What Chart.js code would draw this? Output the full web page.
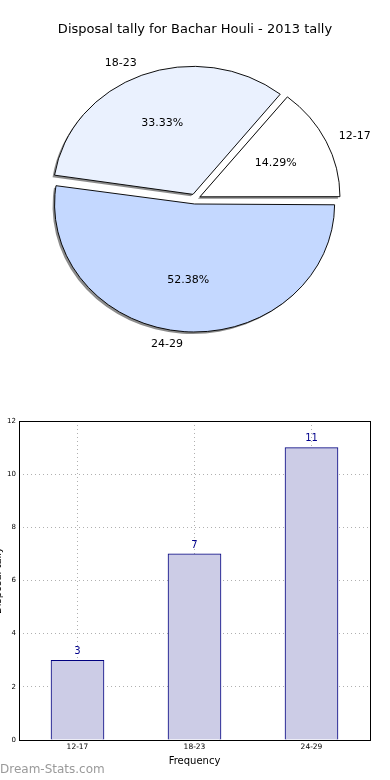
<!DOCTYPE html>
<html>
<head>
<meta charset="utf-8">
<script src="https://cdn.jsdelivr.net/npm/chart.js@4.4.0/dist/chart.umd.min.js"></script>
<style>
  html, body { margin: 0; padding: 0; background: #ffffff; width: 390px; height: 780px; overflow: hidden; }
  #pieWrap { position: absolute; left: 0; top: 0; width: 390px; height: 398px; }
  #barWrap { position: absolute; left: 0; top: 398px; width: 390px; height: 382px; }
</style>
</head>
<body>
<div id="pieWrap"><canvas id="pie" width="390" height="398"></canvas></div>
<div id="barWrap"><canvas id="bar" width="390" height="382"></canvas></div>
<script>
// ---- data ----
const chartTitle = 'Disposal tally for Bachar Houli - 2013 tally';
const categories = ['12-17', '18-23', '24-29'];
const tallies = [3, 7, 11];
const yTicks = [0, 2, 4, 6, 8, 10, 12];
const xAxisTitle = 'Frequency';
const yAxisTitle = 'Disposal tally';
const watermark = 'Dream-Stats.com';

// ---- style ----
const FONT = '"DejaVu Sans", "Liberation Sans", sans-serif';
const pieColorsByCat = ['#ffffff', '#eaf1fe', '#c4d8ff'];
const SX = 1.094;       // horizontal stretch of the pie (ellipse)
const EXPLODE = 5;      // px shift of each wedge
const R = 128;

Chart.defaults.font.family = FONT;
Chart.defaults.animation = false;

// pie drawn clockwise from east: reverse order
const pieLabels = categories.slice().reverse();
const pieData = tallies.slice().reverse();
const pieColors = pieColorsByCat.slice().reverse();
const total = tallies.reduce((a, b) => a + b, 0);

const ellipsePlugin = {
  id: 'ellipse',
  beforeDatasetsDraw(chart) {
    const ctx = chart.ctx;
    const a = chart.chartArea;
    const cx = (a.left + a.right) / 2;
    const meta = chart.getDatasetMeta(0);
    // undo Chart.js radius growth on offset arcs so all wedges share radius R
    meta.data.forEach(arc => {
      const circ = arc.endAngle - arc.startAngle;
      const fix = 1 - Math.sin(Math.min(Math.PI, circ));
      arc.outerRadius = R - EXPLODE * fix;
    });
    ctx.save();
    ctx.translate(cx, 0);
    ctx.scale(SX, 1);
    ctx.translate(-cx, 0);
    // shadows: draw each wedge once, shifted and gray
    ctx.save();
    ctx.translate(-2 / SX, 2);
    meta.data.forEach(arc => {
      const o = arc.options;
      const bg = o.backgroundColor, bc = o.borderColor;
      o.backgroundColor = 'rgba(0,0,0,0.45)';
      o.borderColor = 'rgba(0,0,0,0)';
      arc.draw(ctx);
      o.backgroundColor = bg;
      o.borderColor = bc;
    });
    ctx.restore();
  },
  afterDatasetsDraw(chart) {
    const ctx = chart.ctx;
    ctx.restore();
    const meta = chart.getDatasetMeta(0);
    ctx.save();
    ctx.fillStyle = '#000';
    ctx.font = '11px ' + FONT;
    ctx.textBaseline = 'middle';
    meta.data.forEach((arc, i) => {
      const mid = (arc.startAngle + arc.endAngle) / 2;
      const dx = Math.cos(mid), dy = Math.sin(mid);
      const rl = EXPLODE + R * 1.1;
      ctx.textAlign = dx > 0 ? 'left' : 'right';
      ctx.fillText(pieLabels[i], arc.x + dx * rl * SX, arc.y + dy * rl);
      const rp = EXPLODE + R * 0.6;
      ctx.textAlign = 'center';
      const pct = (pieData[i] / total * 100).toFixed(2) + '%';
      ctx.fillText(pct, arc.x + dx * rp * SX, arc.y + dy * rp);
    });
    ctx.font = '13px ' + FONT;
    ctx.textAlign = 'center';
    ctx.fillText(chartTitle, 195, 30);
    ctx.restore();
  }
};

new Chart(document.getElementById('pie'), {
  type: 'pie',
  data: {
    labels: pieLabels,
    datasets: [{
      data: pieData,
      backgroundColor: pieColors,
      borderColor: '#000000',
      borderWidth: 0.9,
      offset: EXPLODE * 4,
      hoverOffset: 0,
      clip: false
    }]
  },
  options: {
    responsive: false,
    events: [],
    rotation: 90,
    radius: R,
    layout: { padding: 0 },
    plugins: { legend: { display: false }, tooltip: { enabled: false }, title: { display: false } }
  },
  plugins: [ellipsePlugin]
});

const barTextPlugin = {
  id: 'barText',
  afterDraw(chart) {
    const ctx = chart.ctx;
    const a = chart.chartArea;
    ctx.save();
    ctx.strokeStyle = '#000';
    ctx.lineWidth = 1;
    ctx.strokeRect(Math.round(a.left) + 0.5, Math.round(a.top) + 0.5, Math.round(a.right - a.left), Math.round(a.bottom - a.top));
    const meta = chart.getDatasetMeta(0);
    ctx.fillStyle = '#00008b';
    ctx.font = '10px ' + FONT;
    ctx.textAlign = 'center';
    ctx.textBaseline = 'middle';
    meta.data.forEach((bar, i) => {
      ctx.fillText(String(tallies[i]), bar.x, bar.y - 9);
    });
    ctx.fillStyle = '#000';
    ctx.fillText(xAxisTitle, (a.left + a.right) / 2, 363);
    ctx.save();
    ctx.translate(1, (a.top + a.bottom) / 2);
    ctx.rotate(-Math.PI / 2);
    ctx.textBaseline = 'alphabetic';
    ctx.fillText(yAxisTitle, 0, 0);
    ctx.restore();
    ctx.fillStyle = '#9a9a9a';
    ctx.font = '12px ' + FONT;
    ctx.textAlign = 'left';
    ctx.fillText(watermark, 0, 372);
    ctx.restore();
  }
};

new Chart(document.getElementById('bar'), {
  type: 'bar',
  data: {
    labels: categories,
    datasets: [{
      data: tallies,
      backgroundColor: '#ccccE6',
      borderColor: '#000080',
      borderWidth: 1,
      barThickness: 53
    }]
  },
  options: {
    responsive: false,
    events: [],
    layout: { padding: { top: 23, right: 20, bottom: 0, left: 0 } },
    plugins: { legend: { display: false }, tooltip: { enabled: false } },
    scales: {
      x: {
        z: 1,
        offset: true,
        afterFit(s) { s.height = 40; },
        grid: { offset: false, color: '#b0b0b0', lineWidth: 1, drawTicks: false },
        border: { display: false, dash: [1, 3] },
        ticks: { color: '#000', font: { size: 7.5 }, padding: 3, maxRotation: 0 }
      },
      y: {
        z: 1,
        min: 0,
        max: 12,
        afterFit(s) { s.width = 19; },
        afterBuildTicks(s) { s.ticks = yTicks.map(v => ({ value: v })); },
        grid: { color: '#b0b0b0', lineWidth: 1, drawTicks: false },
        border: { display: false, dash: [1, 3] },
        ticks: { color: '#000', font: { size: 7 }, padding: 3 }
      }
    }
  },
  plugins: [barTextPlugin]
});
</script>
</body>
</html>
